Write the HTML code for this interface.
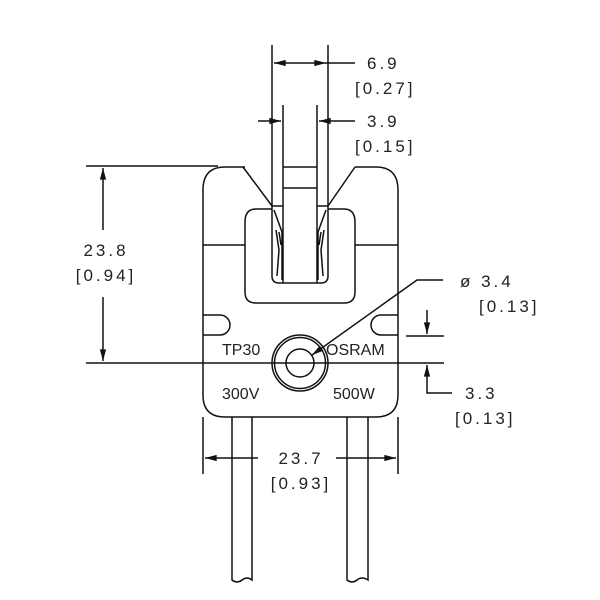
<!DOCTYPE html>
<html><head><meta charset="utf-8"><style>
html,body{margin:0;padding:0;background:#fff}
svg{display:block}
text{font-family:"Liberation Sans",sans-serif;font-size:17px;fill:#222;letter-spacing:3px}
</style></head><body>
<svg width="600" height="600" viewBox="0 0 600 600" xmlns="http://www.w3.org/2000/svg">
<defs>
<marker id="a" viewBox="0 0 10 6" refX="10" refY="3" markerWidth="15" markerHeight="7" markerUnits="userSpaceOnUse" orient="auto"><path d="M0,0.3 L10,3 L0,5.7z" fill="#111"/></marker>
</defs>
<g fill="none" stroke="#111" stroke-width="1.5">
<path d="M245,167 L225,167 Q203,167 203,190 L203,395 Q203,417 225,417 L376,417 Q398,417 398,395 L398,190 Q398,167 376,167 L355,167"/>
<path d="M243,167 L272,206 M355,167 L328,206"/>
<path d="M272,209 L256,209 Q245,209 245,222 L245,292 Q245,303 256,303 L344,303 Q355,303 355,292 L355,222 Q355,209 344,209 L328,209"/>
<path d="M203,245 L245,245 M355,245 L398,245"/>
<path d="M272,45 L272,276 Q272,283 279,283 L321,283 Q328,283 328,276 L328,45"/>
<path d="M283,105 L283,283 M317,105 L317,283"/>
<path d="M283,167 L317,167 M283,188 L317,188"/>
<path d="M272,206 L283,206 M317,206 L328,206"/>
<path d="M274,210 L282,232 L282,280 M276,230 L279,250 L277,276 M279,232 L281,245"/>
<path d="M326,210 L318,232 L318,280 M324,230 L321,250 L323,276 M321,232 L319,245"/>
<path d="M203,315 L220,315 A10,10 0 0 1 220,335 L203,335"/>
<path d="M398,315 L381,315 A10,10 0 0 0 381,335 L398,335"/>
<circle cx="300" cy="363" r="28"/>
<circle cx="300" cy="363" r="25.5"/>
<circle cx="300" cy="363" r="14"/>
<path d="M232,417 L232,580 Q237,584 242,580 Q247,576 252,580 L252,417"/>
<path d="M347,417 L347,580 Q352,584 357,580 Q362,576 368,580 L368,417"/>
<path d="M86,363 L444,363 M86,166 L218,166"/>
<path d="M406,336 L444,336"/>
<path d="M103,230 L103,168" marker-end="url(#a)"/>
<path d="M103,297 L103,361" marker-end="url(#a)"/>
<path d="M203,417 L203,474 M398,417 L398,474"/>
<path d="M258,458 L205,458" marker-end="url(#a)"/>
<path d="M336,458 L396,458" marker-end="url(#a)"/>
<path d="M300,63 L274,63" marker-end="url(#a)"/>
<path d="M300,63 L326,63" marker-end="url(#a)"/>
<path d="M326,63 L355,63"/>
<path d="M258,121 L281,121" marker-end="url(#a)"/>
<path d="M355,121 L319,121" marker-end="url(#a)"/>
<path d="M443,280 L417,280 L312,355" marker-end="url(#a)"/>
<path d="M427,310 L427,334" marker-end="url(#a)"/>
<path d="M452,393 L427,393 L427,365" marker-end="url(#a)"/>
</g>
<text x="367" y="69">6.9</text>
<text x="355" y="94">[0.27]</text>
<text x="367" y="127">3.9</text>
<text x="355" y="152">[0.15]</text>
<text x="106" y="256" text-anchor="middle">23.8</text>
<text x="106" y="281" text-anchor="middle">[0.94]</text>
<text x="301" y="464" text-anchor="middle">23.7</text>
<text x="301" y="489" text-anchor="middle">[0.93]</text>
<text x="460" y="287">ø  3.4</text>
<text x="479" y="312">[0.13]</text>
<text x="465" y="399">3.3</text>
<text x="455" y="424">[0.13]</text>
<text x="222" y="355" style="letter-spacing:0;font-size:16px">TP30</text>
<text x="326" y="355" style="letter-spacing:0;font-size:16px">OSRAM</text>
<text x="222" y="399" style="letter-spacing:0;font-size:16px">300V</text>
<text x="333" y="399" style="letter-spacing:0;font-size:16px">500W</text>
</svg>
</body></html>
